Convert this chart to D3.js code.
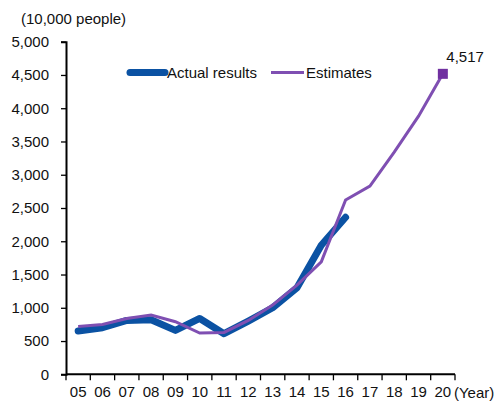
<!DOCTYPE html>
<html>
<head>
<meta charset="utf-8">
<script src="https://cdn.jsdelivr.net/npm/d3@7"></script>
<style>
  html, body { margin: 0; padding: 0; background: #fff; }
  svg text { font-family: "Liberation Sans", Arial, sans-serif; fill: #111; }
</style>
</head>
<body>
<svg id="chart" width="500" height="401"></svg>
<script>
// Visitors, in units of 10,000 people
const years = ["05","06","07","08","09","10","11","12","13","14","15","16","17","18","19","20"];
const actual = [650, 700, 810, 820, 660, 840, 610, 800, 1000, 1300, 1940, 2360];
const estimates = [720, 750, 840, 890, 790, 620, 630, 810, 1040, 1340, 1690, 2620, 2830, 3340, 3880, 4517];
const yTicks = [0, 500, 1000, 1500, 2000, 2500, 3000, 3500, 4000, 4500, 5000];
const seriesNames = ["Actual results", "Estimates"];

const svg = d3.select("#chart");
const plotLeft = 66, plotRight = 455, plotTop = 41.7, plotBottom = 374.3;
const fontSize = "15px";

const x = d3.scaleBand().domain(years).range([plotLeft, plotRight]);
const y = d3.scaleLinear().domain([0, 5000]).range([plotBottom, plotTop]);
const fmt = d3.format(",");

// y axis
const yAxis = svg.append("g")
  .attr("transform", `translate(${plotLeft},0)`)
  .call(d3.axisLeft(y).tickValues(yTicks).tickFormat(fmt).tickSize(5).tickPadding(12));
yAxis.select(".domain").attr("stroke", "#000").attr("stroke-width", 2);
yAxis.selectAll(".tick line").attr("stroke", "#000").attr("stroke-width", 1.3);
yAxis.selectAll("text").style("font-size", fontSize).attr("fill", "#111");

// x axis: ticks on category boundaries
const xAxis = svg.append("g")
  .attr("transform", `translate(0,${plotBottom})`)
  .call(d3.axisBottom(x).tickSize(0).tickPadding(12));
xAxis.select(".domain").attr("stroke", "#000").attr("stroke-width", 2)
  .attr("d", `M${plotLeft},0H${plotRight}`);
xAxis.selectAll("text").style("font-size", fontSize).attr("fill", "#111");
const bounds = years.map(d => x(d)).concat([plotRight]);
xAxis.selectAll(".bound").data(bounds).join("line")
  .attr("class", "bound")
  .attr("x1", d => d).attr("x2", d => d)
  .attr("y1", 0).attr("y2", 6)
  .attr("stroke", "#000").attr("stroke-width", 1.3);

svg.append("text").attr("x", plotRight - 1).attr("y", 397.5)
  .style("font-size", fontSize).text("(Year)");
svg.append("text").attr("x", 21).attr("y", 24)
  .style("font-size", fontSize).text("(10,000 people)");

const cx = d => x(d) + x.bandwidth() / 2;
const line = d3.line().x((d, i) => cx(years[i])).y(d => y(d));

const blue = "#0b52a3", purple = "#7f4fb2";

svg.append("path").datum(actual)
  .attr("d", line).attr("fill", "none")
  .attr("stroke", blue).attr("stroke-width", 7)
  .attr("stroke-linecap", "round").attr("stroke-linejoin", "round");

svg.append("path").datum(estimates)
  .attr("d", line).attr("fill", "none")
  .attr("stroke", purple).attr("stroke-width", 3)
  .attr("stroke-linejoin", "miter");

// end-point marker and label
const last = estimates.length - 1;
svg.append("rect")
  .attr("x", cx(years[last]) - 5).attr("y", y(estimates[last]) - 5)
  .attr("width", 10).attr("height", 10).attr("fill", "#7030a0");
svg.append("text")
  .attr("x", cx(years[last]) + 3.5).attr("y", y(estimates[last]) - 12)
  .style("font-size", fontSize).text(fmt(estimates[last]));

// legend
const legend = [
  { name: seriesNames[0], color: blue, w: 7, x0: 130, x1: 165, cap: "round" },
  { name: seriesNames[1], color: purple, w: 3, x0: 271, x1: 304, cap: "butt" }
];
const ly = 72.5;
legend.forEach(l => {
  svg.append("line").attr("x1", l.x0).attr("x2", l.x1).attr("y1", ly).attr("y2", ly)
    .attr("stroke", l.color).attr("stroke-width", l.w).attr("stroke-linecap", l.cap);
  svg.append("text").attr("x", l.x1 + 2).attr("y", ly + 5.5)
    .style("font-size", fontSize).text(l.name);
});
</script>
</body>
</html>
